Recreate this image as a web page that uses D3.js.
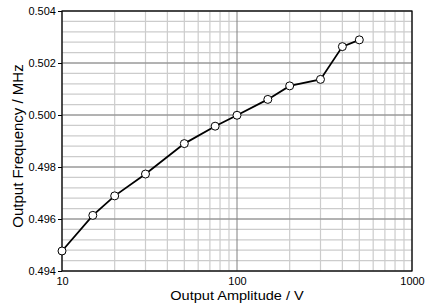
<!DOCTYPE html>
<html>
<head>
<meta charset="utf-8">
<script src="https://cdn.jsdelivr.net/npm/d3@7"></script>
<style>
  body { margin: 0; background: #fff; }
  text { font-family: "Liberation Sans", Arial, sans-serif; fill: #000; }
</style>
</head>
<body>
<script>
// amplitude (V) vs output frequency (MHz)
var amplitude = [10, 15, 20, 30, 50, 75, 100, 150, 200, 300, 400, 500];
var frequency = [0.49477, 0.49614, 0.49689, 0.49773, 0.49890, 0.49957,
                 0.49999, 0.50060, 0.50112, 0.50137, 0.50263, 0.50289];
var xTicks = [10, 100, 1000];
var yTicks = [0.494, 0.496, 0.498, 0.500, 0.502, 0.504];

var margin = { top: 11, right: 16, bottom: 36, left: 62 },
  width = 428 - margin.left - margin.right,
  height = 307 - margin.top - margin.bottom;

var svg = d3.select("body").append("svg")
  .attr("width", 428)
  .attr("height", 307);

var g = svg.append("g")
  .attr("transform", "translate(" + margin.left + "," + margin.top + ")");

var x = d3.scaleLog().domain([10, 1000]).range([0, width]);
var y = d3.scaleLinear().domain([0.494, 0.504]).range([height, 0]);

// minor grid
var xMinor = [];
[10, 100].forEach(function(d) {
  for (var k = 2; k <= 9; k++) xMinor.push(d * k);
});
var yMinor = d3.range(0, 26).map(function(i) { return 0.494 + i * 0.0004; });

g.selectAll(".vminor").data(xMinor).enter().append("line")
  .attr("x1", x).attr("x2", x)
  .attr("y1", 0).attr("y2", height)
  .attr("stroke", "#cccccc").attr("stroke-width", 1.2);

g.selectAll(".hminor").data(yMinor).enter().append("line")
  .attr("x1", 0).attr("x2", width)
  .attr("y1", y).attr("y2", y)
  .attr("stroke", "#cccccc").attr("stroke-width", 1.2);

// major grid
g.selectAll(".vmajor").data(xTicks).enter().append("line")
  .attr("x1", x).attr("x2", x)
  .attr("y1", 0).attr("y2", height)
  .attr("stroke", "#808080").attr("stroke-width", 1);

g.selectAll(".hmajor").data(yTicks).enter().append("line")
  .attr("x1", 0).attr("x2", width)
  .attr("y1", y).attr("y2", y)
  .attr("stroke", "#808080").attr("stroke-width", 1);

// frame
g.append("rect")
  .attr("width", width).attr("height", height)
  .attr("fill", "none").attr("stroke", "#000").attr("stroke-width", 1.2);

// axes
var yAxis = g.append("g")
  .call(d3.axisLeft(y).tickValues(yTicks).tickSize(4).tickPadding(2)
    .tickFormat(d3.format(".3f")));
yAxis.select(".domain").remove();
yAxis.selectAll("text").attr("font-size", 10)
  .attr("transform", "scale(1.1,1)").attr("x", -5.5);

var xAxis = g.append("g")
  .attr("transform", "translate(0," + height + ")")
  .call(d3.axisBottom(x).tickValues(xTicks).tickSize(0).tickPadding(7)
    .tickFormat(d3.format("d")));
xAxis.select(".domain").remove();
xAxis.selectAll("text").attr("font-size", 10)
  .attr("transform", "scale(1.1,1)");

// line + markers
var pts = amplitude.map(function(a, i) { return [a, frequency[i]]; });

g.append("path")
  .datum(pts)
  .attr("fill", "none")
  .attr("stroke", "#000")
  .attr("stroke-width", 1.8)
  .attr("d", d3.line()
    .x(function(d) { return x(d[0]); })
    .y(function(d) { return y(d[1]); }));

g.selectAll(".pt").data(pts).enter().append("circle")
  .attr("cx", function(d) { return x(d[0]); })
  .attr("cy", function(d) { return y(d[1]); })
  .attr("r", 4)
  .attr("fill", "#fff")
  .attr("stroke", "#000")
  .attr("stroke-width", 1);

// titles
svg.append("text")
  .attr("transform", "translate(237,300) scale(1.12,1)")
  .attr("text-anchor", "middle")
  .attr("font-size", 13)
  .text("Output Amplitude / V");

svg.append("text")
  .attr("transform", "translate(23,146) rotate(-90)")
  .attr("text-anchor", "middle")
  .attr("font-size", 15)
  .text("Output Frequency / MHz");
</script>
</body>
</html>
